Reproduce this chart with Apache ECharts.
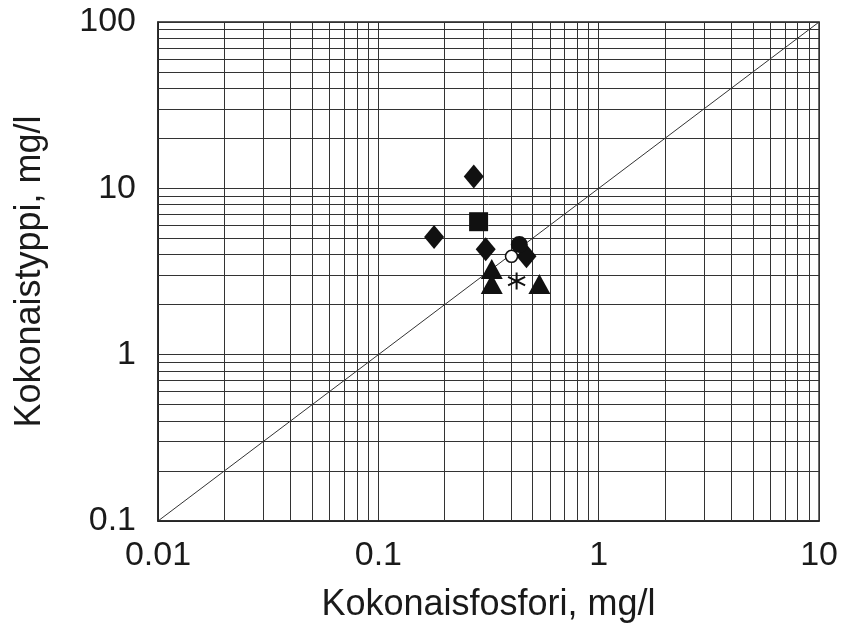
<!DOCTYPE html>
<html><head><meta charset="utf-8">
<script src="https://cdn.jsdelivr.net/npm/echarts@6/dist/echarts.min.js"></script>
<style>html,body{margin:0;padding:0;background:#fff}#c{width:841px;height:628px}</style>
</head><body><div id="c"></div>
<script>
// Data (x: total phosphorus mg/l, y: total nitrogen mg/l)
const diamonds = [[0.271, 11.8], [0.179, 5.1], [0.307, 4.3], [0.47, 3.9]];
const squares = [[0.285, 6.3]];
const filledCircles = [[0.436, 4.6]];
const openCircles = [[0.402, 3.9]];
const triangles = [[0.327, 3.27], [0.327, 2.66], [0.538, 2.66]];
const asterisks = [[0.424, 2.77]];
const refLine = [[0.01, 0.1], [10, 100]];
const xTicks = ['0.01', '0.1', '1', '10'];
const yTicks = ['0.1', '1', '10', '100'];
const xGridValues = [];
for (const d of [0.01, 0.1, 1]) for (let m = 2; m <= 9; m++) xGridValues.push(+(d * m).toPrecision(3));
const yGridValues = [];
for (const d of [0.1, 1, 10]) for (let m = 1; m <= 9; m++) if (!(d === 0.1 && m === 1)) yGridValues.push(+(d * m).toPrecision(3));

const chart = echarts.init(document.getElementById('c'), null, {renderer: 'canvas'});
const font = 'Liberation Sans, Arial, sans-serif';
const gridLines = [];
xGridValues.forEach(v => gridLines.push({xAxis: v}));
yGridValues.forEach(v => gridLines.push({yAxis: v}));
const mark = {color: '#111', opacity: 1};

chart.setOption({
  animation: false,
  backgroundColor: '#fff',
  grid: {left: 158, right: 19, top: 22, bottom: 101, show: true, borderColor: '#222', borderWidth: 1.5},
  xAxis: {
    type: 'log', min: 0.01, max: 10, logBase: 10,
    name: 'Kokonaisfosfori, mg/l', nameLocation: 'middle', nameGap: 66,
    nameTextStyle: {fontFamily: font, fontSize: 36, color: '#1a1a1a'},
    axisLine: {show: true, lineStyle: {color: '#222', width: 1.5}},
    axisTick: {show: false},
    splitLine: {show: true, lineStyle: {color: '#333', width: 1}},
    axisLabel: {fontFamily: font, fontSize: 34, color: '#1a1a1a', margin: 18,
      formatter: v => { const s = String(+v.toPrecision(3)); return xTicks.includes(s) ? s : ''; }}
  },
  yAxis: {
    type: 'log', min: 0.1, max: 100, logBase: 10,
    name: 'Kokonaistyppi, mg/l', nameLocation: 'middle', nameGap: 110, nameRotate: 90,
    nameTextStyle: {fontFamily: font, fontSize: 36, color: '#1a1a1a'},
    axisLine: {show: true, lineStyle: {color: '#222', width: 1.5}},
    axisTick: {show: false},
    splitLine: {show: true, lineStyle: {color: '#333', width: 1}},
    axisLabel: {fontFamily: font, fontSize: 34, color: '#1a1a1a', margin: 22,
      formatter: v => { const s = String(+v.toPrecision(3)); return yTicks.includes(s) ? s : ''; }}
  },
  series: [
    {type: 'line', data: refLine, symbol: 'none', silent: true,
      lineStyle: {color: '#333', width: 1}, z: 1,
      markLine: {silent: true, symbol: 'none', label: {show: false},
        lineStyle: {color: '#333', width: 1, type: 'solid'}, data: gridLines, animation: false}},
    {type: 'scatter', data: diamonds, symbol: 'diamond', symbolSize: [20, 24], itemStyle: mark, z: 5},
    {type: 'scatter', data: squares, symbol: 'rect', symbolSize: 19, itemStyle: mark, z: 5},
    {type: 'scatter', data: filledCircles, symbol: 'circle', symbolSize: 17, itemStyle: mark, z: 5},
    {type: 'scatter', data: openCircles, symbol: 'circle', symbolSize: 12, itemStyle: {color: '#fff', opacity: 1, borderColor: '#111', borderWidth: 1.5}, z: 6},
    {type: 'scatter', data: triangles, symbol: 'triangle', symbolSize: [22, 20], itemStyle: mark, z: 5},
    {type: 'scatter', data: asterisks, symbol: 'path://M0,-10L0,10M-9,-5L9,5M-9,5L9,-5', symbolSize: 17,
      itemStyle: {color: 'none', opacity: 1, borderColor: '#111', borderWidth: 2}, z: 5}
  ]
});
</script></body></html>
